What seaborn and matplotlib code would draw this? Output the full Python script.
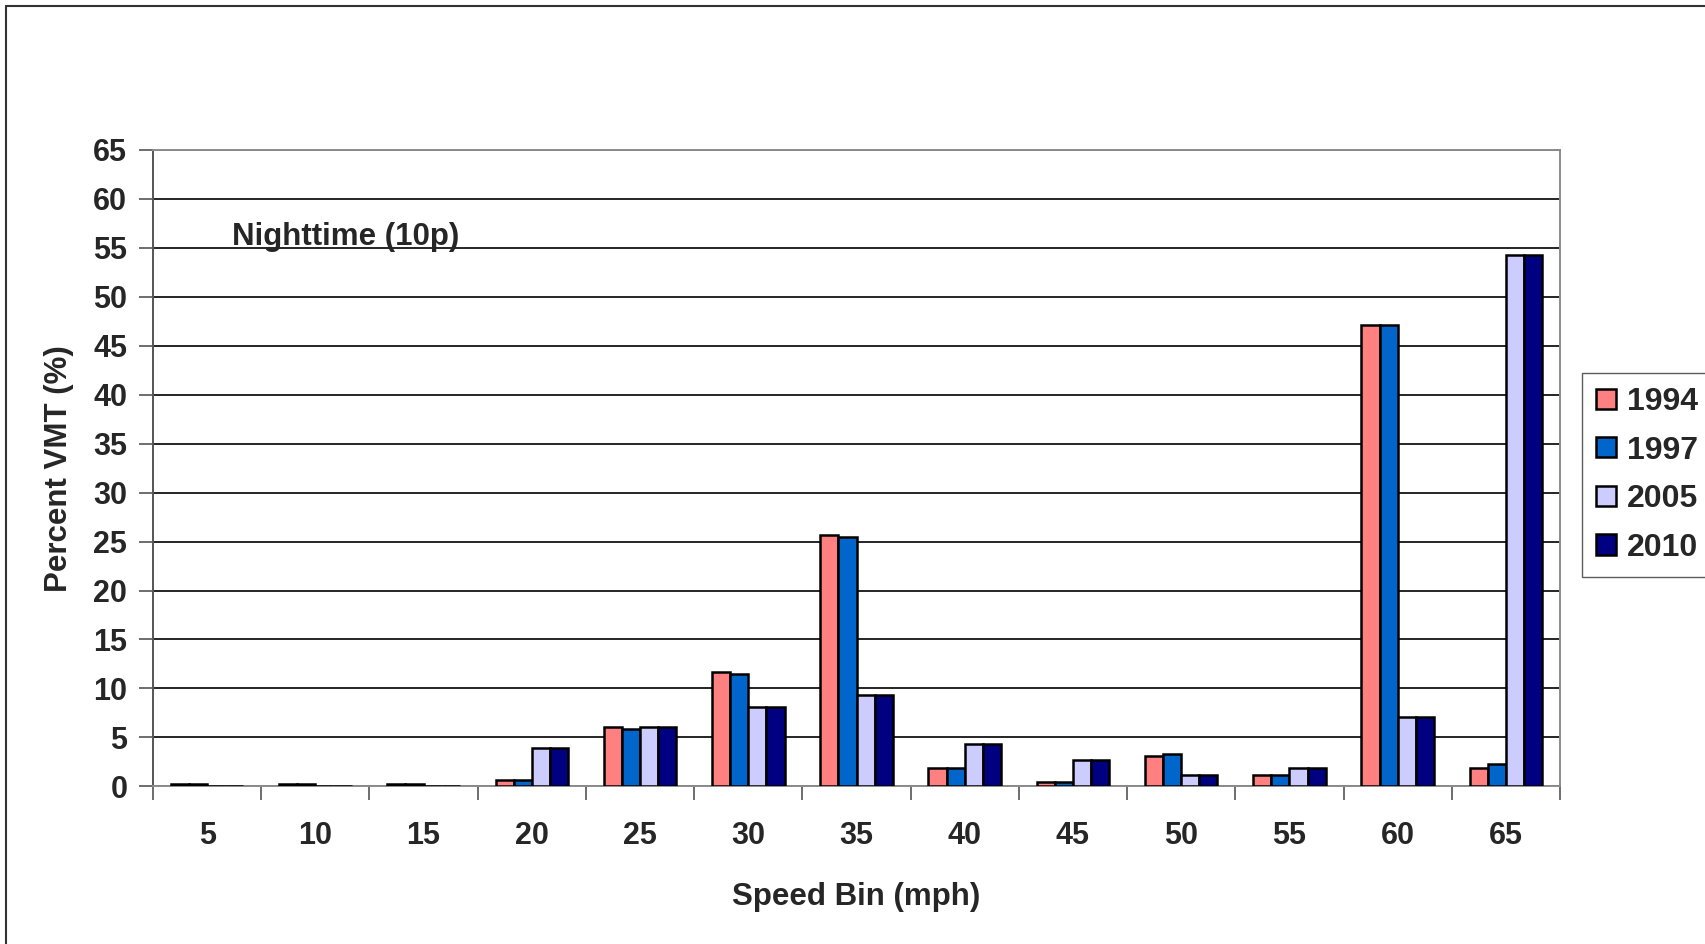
import matplotlib
matplotlib.use("Agg")
import matplotlib.pyplot as plt
import seaborn as sns
import pandas as pd
from matplotlib.lines import Line2D
from matplotlib.patches import Patch

# Speed bins (mph) and percent VMT for each survey year
speed_bins = ["5", "10", "15", "20", "25", "30", "35", "40", "45", "50", "55", "60", "65"]
years = ["1994", "1997", "2005", "2010"]
pct_1994 = [0.2, 0.2, 0.2, 0.65, 6.1, 11.65, 25.7, 1.85, 0.4, 3.05, 1.2, 47.15, 1.85]
pct_1997 = [0.2, 0.2, 0.2, 0.65, 5.9, 11.45, 25.45, 1.85, 0.4, 3.25, 1.2, 47.15, 2.25]
pct_2005 = [0.0, 0.0, 0.0, 3.9, 6.1, 8.15, 9.35, 4.3, 2.65, 1.2, 1.85, 7.1, 54.3]
pct_2010 = [0.0, 0.0, 0.0, 3.9, 6.1, 8.15, 9.35, 4.3, 2.65, 1.2, 1.85, 7.1, 54.3]
colors = ["#FF8080", "#0066CC", "#CCCCFF", "#000080"]

df = pd.DataFrame({
    "bin": speed_bins * 4,
    "year": [y for y in years for _ in speed_bins],
    "pct": pct_1994 + pct_1997 + pct_2005 + pct_2010,
})

sns.set_theme(style="white")
plt.rcParams["font.family"] = ["Liberation Sans", "DejaVu Sans"]
plt.rcParams["font.weight"] = "bold"

fig = plt.figure(figsize=(17.05, 9.44), dpi=100)
ax = fig.add_axes([153 / 1705, 1 - 786.3 / 944, (1560 - 153) / 1705, (786.3 - 150) / 944])

sns.barplot(data=df, x="bin", y="pct", hue="year", order=speed_bins, hue_order=years,
            palette=colors, saturation=1, width=0.67, edgecolor="black", linewidth=1.8,
            errorbar=None, legend=False, ax=ax, zorder=3)

ax.set_ylim(0, 65)
ax.set_xlim(-0.5, len(speed_bins) - 0.5)
ax.set_yticks(range(0, 66, 5))
ax.yaxis.grid(True, color="black", linewidth=1.2, zorder=0)
ax.set_axisbelow(True)
for side in ["top", "right", "left", "bottom"]:
    ax.spines[side].set_visible(True)
    ax.spines[side].set_color("#8c8c8c")
    ax.spines[side].set_linewidth(1.4)
ax.spines["left"].set_color("#555555")

# Category ticks sit on the boundaries between bins
ax.set_xticks([i - 0.5 for i in range(len(speed_bins) + 1)], minor=True)
ax.set_xticks(range(len(speed_bins)))
ax.set_xticklabels(speed_bins)
ax.tick_params(axis="x", which="major", length=0, pad=25, labelsize=22)
ax.tick_params(axis="x", which="minor", length=10, width=1.2, color="#555555", direction="out", bottom=True)
ax.tick_params(axis="y", length=10, width=1.2, color="#555555", direction="out", left=True,
               labelsize=22, pad=8.5)
for lab in ax.get_xticklabels() + ax.get_yticklabels():
    lab.set_fontweight("bold")

ax.set_xlabel("Speed Bin (mph)", fontsize=22.5, fontweight="bold", labelpad=22)
ax.set_ylabel("Percent VMT (%)", fontsize=22.5, fontweight="bold", labelpad=14)

ax.text(0.0559, 0.864, "Nighttime (10p)", transform=ax.transAxes, fontsize=22.5,
        fontweight="bold", va="center", ha="left")

handles = [Patch(facecolor=c, edgecolor="black", linewidth=1.8) for c in colors]
fig.legend(handles, years, loc="upper left", bbox_to_anchor=(1582 / 1705, 1 - 372.7 / 944),
           borderaxespad=0, frameon=True, fancybox=False, edgecolor="#333333",
           prop={"size": 23, "weight": "bold"}, handlelength=0.6, handleheight=0.6,
           handletextpad=0.35, labelspacing=0.58, borderpad=0.45)

# Outer chart border
fig.add_artist(Line2D([5.7 / 1705, 1], [1 - 5.7 / 944] * 2, transform=fig.transFigure,
                      color="#333333", linewidth=1.5))
fig.add_artist(Line2D([5.7 / 1705] * 2, [0, 1 - 5.7 / 944], transform=fig.transFigure,
                      color="#333333", linewidth=1.5))

fig.savefig("out.png", dpi=100)
